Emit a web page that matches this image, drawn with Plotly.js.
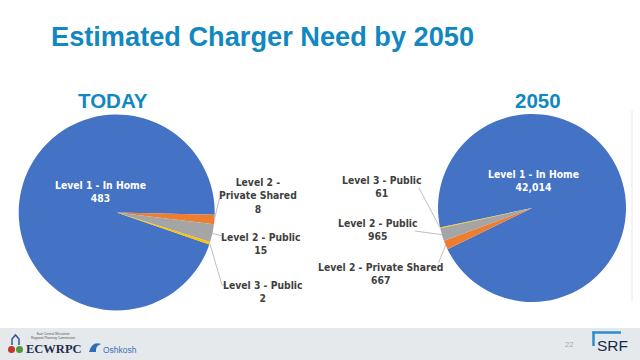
<!DOCTYPE html>
<html><head><meta charset="utf-8">
<script src="https://cdn.plot.ly/plotly-3.0.1.min.js"></script>
<style>html,body{margin:0;padding:0;background:#fff}#chart{width:640px;height:360px}</style>
</head><body><div id="chart"></div>
<script>
// ---- data ----
const categories = ['Level 1 - In Home', 'Level 2 - Private Shared', 'Level 2 - Public', 'Level 3 - Public'];
const todayValues = [483, 8, 15, 2];
const futureValues = [42014, 667, 965, 61];
const sliceColors = ['#4472C4', '#ED7D31', '#A5A5A5', '#FFC000'];
const pieTitles = ['TODAY', '2050'];
const chartTitle = 'Estimated Charger Need by 2050';

// ---- layout helpers (pixel -> paper) ----
const W = 640, H = 360;
const px = x => x / W;
const py = y => 1 - y / H;

const pies = [
  {cx: 116.7, cy: 212.5, r: 98, rot: 109, values: todayValues},
  {cx: 532, cy: 208, r: 94, rot: 258, values: futureValues}
];

const traces = pies.map(p => ({
  type: 'pie',
  labels: categories,
  values: p.values,
  sort: false,
  direction: 'clockwise',
  rotation: p.rot,
  marker: {colors: sliceColors, line: {width: 0}},
  textinfo: 'none',
  hoverinfo: 'label+value',
  showlegend: false,
  domain: {x: [px(p.cx - p.r), px(p.cx + p.r)], y: [py(p.cy + p.r), py(p.cy - p.r)]}
}));

// point on the rim at the middle of slice i
function rimPoint(p, i) {
  const tot = p.values.reduce((a, b) => a + b, 0);
  let before = 0;
  for (let k = 0; k < i; k++) before += p.values[k];
  const ang = (p.rot + (before + p.values[i] / 2) / tot * 360) * Math.PI / 180;
  return [p.cx + p.r * Math.sin(ang), p.cy - p.r * Math.cos(ang)];
}

const labelFont = {family: 'Liberation Sans Narrow, Arial Narrow, DejaVu Sans Condensed, sans-serif', size: 10.3, color: '#404040', weight: 'bold'};
const fmt = v => v.toLocaleString('en-US');

const annotations = [];
const shapes = [];
function txt(x, y, text, font, xanchor) {
  annotations.push({xref: 'paper', yref: 'paper', x: px(x), y: py(y), text: text, showarrow: false,
    font: font, xanchor: xanchor || 'center', yanchor: 'middle', align: 'center'});
}
function line(x0, y0, x1, y1, color, width) {
  shapes.push({type: 'line', xref: 'paper', yref: 'paper', x0: px(x0), y0: py(y0), x1: px(x1), y1: py(y1),
    line: {color: color || '#BFBFBF', width: width || 1}});
}

// title
txt(49, 37, '<b>' + chartTitle + '</b>', {family: 'Liberation Sans, Arial, sans-serif', size: 27.2, color: '#1188C0'}, 'left');
txt(112.5, 100, '<b>' + pieTitles[0] + '</b>', {family: 'Liberation Sans, Arial, sans-serif', size: 20.5, color: '#1188C0'});
txt(538, 100, '<b>' + pieTitles[1] + '</b>', {family: 'Liberation Sans, Arial, sans-serif', size: 20.5, color: '#1188C0'});

// inside labels
const inFont = Object.assign({}, labelFont, {color: '#FFFFFF'});
txt(100, 191.5, categories[0] + '<br>' + fmt(todayValues[0]), inFont);
txt(533, 180, categories[0] + '<br>' + fmt(futureValues[0]), inFont);

// left outside labels
const L = pies[0];
txt(258, 195, categories[1].replace(' - Private', ' -<br>Private') + '<br>' + fmt(todayValues[1]), labelFont);
txt(260.5, 243, categories[2] + '<br>' + fmt(todayValues[2]), labelFont);
txt(263, 291.5, categories[3] + '<br>' + fmt(todayValues[3]), labelFont);
let a = rimPoint(L, 1); line(a[0], a[1], 219.5, 198);
a = rimPoint(L, 2); line(a[0], a[1], 222, 236);
a = rimPoint(L, 3); line(a[0], a[1], 222, 285); line(222, 285, 226, 285);

// right outside labels
const R = pies[1];
txt(382, 186.5, categories[3] + '<br>' + fmt(futureValues[3]), labelFont);
txt(378, 229.5, categories[2] + '<br>' + fmt(futureValues[2]), labelFont);
txt(380.5, 273.5, categories[1] + '<br>' + fmt(futureValues[1]), labelFont);
a = rimPoint(R, 3); line(a[0], a[1], 419, 188);
a = rimPoint(R, 2); line(a[0], a[1], 415, 231);
a = rimPoint(R, 1); line(a[0], a[1], 438.5, 263);

// right faint divider
line(632, 110, 632, 302, '#E8E8E8', 1);

// footer band
shapes.push({type: 'rect', xref: 'paper', yref: 'paper', x0: 0, x1: 1, y0: 0, y1: py(328), fillcolor: '#E6E9EC', line: {width: 0}, layer: 'below'});
// ECWRPC logo approximation
shapes.push({type: 'circle', xref: 'paper', yref: 'paper', x0: px(8), x1: px(15), y0: py(353), y1: py(346), fillcolor: '#C0392B', line: {width: 0}});
shapes.push({type: 'circle', xref: 'paper', yref: 'paper', x0: px(16), x1: px(23), y0: py(353), y1: py(346), fillcolor: '#4E9A3A', line: {width: 0}});
shapes.push({type: 'path', xref: 'paper', yref: 'paper',
  path: 'M ' + px(12) + ' ' + py(345) + ' L ' + px(12) + ' ' + py(339) + ' L ' + px(15.5) + ' ' + py(335) + ' L ' + px(19) + ' ' + py(339) + ' L ' + px(19) + ' ' + py(345),
  line: {color: '#2F5597', width: 1.5}});
txt(29, 336, 'East Central Wisconsin<br>Regional Planning Commission', {family: 'Liberation Sans, sans-serif', size: 3.2, color: '#555555'}, 'left');
txt(24, 349, '<b>ECWRPC</b>', {family: 'Liberation Serif, Times New Roman, serif', size: 12.5, color: '#1F2F4F'}, 'left');
// Oshkosh logo approximation
shapes.push({type: 'path', xref: 'paper', yref: 'paper',
  path: 'M ' + px(89) + ' ' + py(352) + ' Q ' + px(92) + ' ' + py(341) + ' ' + px(101) + ' ' + py(344) + ' Q ' + px(95) + ' ' + py(346) + ' ' + px(96) + ' ' + py(352) + ' Z',
  fillcolor: '#2F6DB5', line: {width: 0}});
txt(101, 350, 'Oshkosh', {family: 'Liberation Sans, sans-serif', size: 8.5, color: '#3A6FB5'}, 'left');
// page number and SRF
txt(568.5, 344, '22', {family: 'Liberation Sans, sans-serif', size: 7.5, color: '#A6A6A6'});
line(593.5, 331.5, 593.5, 346, '#2B8ED1', 2.5);
line(592.5, 332.5, 621, 332.5, '#2B8ED1', 2.5);
txt(612, 345, 'SRF', {family: 'Liberation Sans, Arial, sans-serif', size: 15.5, color: '#14294A'});

const layout = {
  width: W, height: H,
  margin: {l: 0, r: 0, t: 0, b: 0},
  paper_bgcolor: '#FFFFFF',
  showlegend: false,
  annotations: annotations,
  shapes: shapes
};
Plotly.newPlot('chart', traces, layout, {displayModeBar: false, staticPlot: true});
</script>
</body></html>
